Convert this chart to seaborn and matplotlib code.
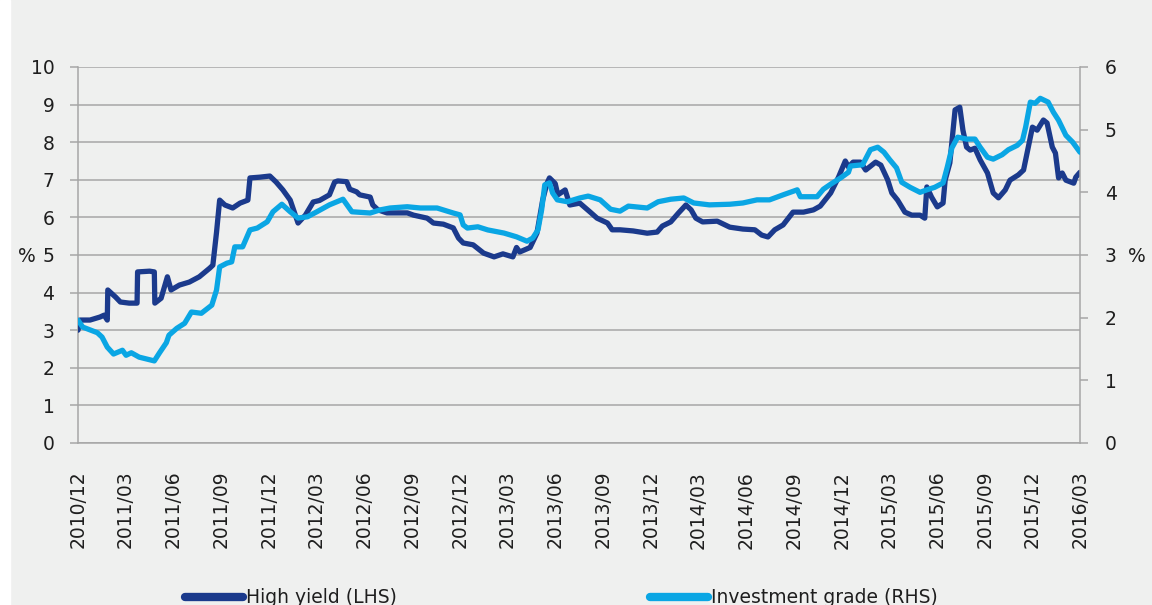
import numpy as np
import matplotlib
matplotlib.use('Agg')
import matplotlib.pyplot as plt
import matplotlib.dates as mdates
from matplotlib.lines import Line2D
from matplotlib.patches import Rectangle
import pandas as pd
import seaborn as sns

# high yield (left axis, %)
hy_dates = ['2010-12-01', '2010-12-05', '2010-12-24', '2011-01-12', '2011-01-20', '2011-01-26', '2011-01-27',
            '2011-02-11', '2011-02-20', '2011-03-09', '2011-03-24', '2011-03-25', '2011-04-17', '2011-04-26',
            '2011-04-27', '2011-05-09', '2011-05-21', '2011-05-28', '2011-06-13', '2011-07-02', '2011-07-21',
            '2011-08-10', '2011-08-16', '2011-08-23', '2011-08-29', '2011-09-08', '2011-09-23', '2011-10-07',
            '2011-10-22', '2011-10-26', '2011-11-14', '2011-12-03', '2011-12-15', '2011-12-28', '2012-01-11',
            '2012-01-26', '2012-02-09', '2012-02-24', '2012-03-07', '2012-03-26', '2012-04-05', '2012-04-11',
            '2012-04-28', '2012-05-04', '2012-05-17', '2012-05-23', '2012-06-12', '2012-06-17', '2012-06-27',
            '2012-07-14', '2012-08-22', '2012-09-03', '2012-09-29', '2012-10-11', '2012-10-30', '2012-11-18',
            '2012-11-28', '2012-12-07', '2012-12-26', '2013-01-15', '2013-02-04', '2013-02-21', '2013-03-12',
            '2013-03-19', '2013-03-25', '2013-04-14', '2013-04-27', '2013-05-08', '2013-05-16', '2013-05-21',
            '2013-06-01', '2013-06-06', '2013-06-20', '2013-06-29', '2013-07-18', '2013-08-07', '2013-08-20',
            '2013-09-09', '2013-09-18', '2013-10-03', '2013-10-28', '2013-11-24', '2013-12-13', '2013-12-23',
            '2014-01-08', '2014-01-23', '2014-02-06', '2014-02-16', '2014-02-25', '2014-03-10', '2014-04-07',
            '2014-05-01', '2014-05-26', '2014-06-18', '2014-07-01', '2014-07-13', '2014-07-26', '2014-08-11',
            '2014-08-30', '2014-09-19', '2014-10-08', '2014-10-21', '2014-11-10', '2014-11-25', '2014-12-08',
            '2014-12-14', '2014-12-23', '2015-01-06', '2015-01-16', '2015-02-04', '2015-02-14', '2015-02-27',
            '2015-03-07', '2015-03-18', '2015-04-01', '2015-04-14', '2015-04-30', '2015-05-09', '2015-05-13',
            '2015-05-22', '2015-06-02', '2015-06-13', '2015-06-17', '2015-06-26', '2015-07-06', '2015-07-15',
            '2015-07-21', '2015-07-28', '2015-08-04', '2015-08-13', '2015-08-23', '2015-09-06', '2015-09-17',
            '2015-09-27', '2015-10-10', '2015-10-19', '2015-11-04', '2015-11-14', '2015-11-23', '2015-12-01',
            '2015-12-10', '2015-12-22', '2015-12-29', '2016-01-08', '2016-01-14', '2016-01-20', '2016-01-27',
            '2016-02-03', '2016-02-18', '2016-02-22', '2016-03-01']
hy_values = [3.0, 3.27, 3.27, 3.35, 3.4, 3.27, 4.07,
             3.88, 3.75, 3.72, 3.72, 4.55, 4.57, 4.55,
             3.72, 3.85, 4.42, 4.07, 4.2, 4.28, 4.42,
             4.65, 4.73, 5.6, 6.46, 6.33, 6.25, 6.38,
             6.46, 7.05, 7.07, 7.1, 6.94, 6.73, 6.46,
             5.85, 6.06, 6.41, 6.45, 6.6, 6.94, 6.97,
             6.95, 6.75, 6.68, 6.6, 6.54, 6.33, 6.2,
             6.12, 6.12, 6.06, 5.98, 5.85, 5.82, 5.72,
             5.45, 5.32, 5.27, 5.05, 4.95, 5.03, 4.95,
             5.2, 5.08, 5.2, 5.58, 6.46, 6.9, 7.05,
             6.9, 6.6, 6.73, 6.33, 6.38, 6.14, 5.98,
             5.85, 5.67, 5.67, 5.64, 5.58, 5.61, 5.77,
             5.88, 6.12, 6.33, 6.2, 5.98, 5.88, 5.9,
             5.74, 5.69, 5.67, 5.53, 5.48, 5.67, 5.8,
             6.14, 6.14, 6.2, 6.3, 6.65, 7.07, 7.5,
             7.34, 7.47, 7.47, 7.26, 7.47, 7.39, 7.0,
             6.65, 6.46, 6.14, 6.06, 6.06, 5.98, 6.81,
             6.54, 6.28, 6.38, 6.99, 7.45, 8.86, 8.93,
             8.32, 7.87, 7.79, 7.84, 7.53, 7.18, 6.65,
             6.52, 6.73, 6.99, 7.13, 7.26, 7.87, 8.4,
             8.32, 8.59, 8.51, 7.87, 7.71, 7.05, 7.18,
             6.99, 6.91, 7.07, 7.2]

# investment grade (right axis, %)
ig_dates = ['2010-12-01', '2010-12-10', '2011-01-07', '2011-01-16', '2011-01-26', '2011-02-07', '2011-02-24',
            '2011-03-03', '2011-03-13', '2011-03-28', '2011-04-26', '2011-05-06', '2011-05-19', '2011-05-24',
            '2011-06-08', '2011-06-23', '2011-07-06', '2011-07-25', '2011-08-14', '2011-08-23', '2011-08-29',
            '2011-09-12', '2011-09-21', '2011-09-27', '2011-10-12', '2011-10-26', '2011-11-09', '2011-11-28',
            '2011-12-09', '2011-12-26', '2012-01-11', '2012-01-26', '2012-02-13', '2012-03-02', '2012-03-26',
            '2012-04-21', '2012-05-08', '2012-06-12', '2012-07-01', '2012-07-20', '2012-08-22', '2012-09-16',
            '2012-10-18', '2012-11-18', '2012-12-01', '2012-12-07', '2012-12-15', '2013-01-04', '2013-01-23',
            '2013-02-23', '2013-03-19', '2013-04-08', '2013-04-19', '2013-04-29', '2013-05-06', '2013-05-12',
            '2013-05-21', '2013-05-27', '2013-06-05', '2013-06-24', '2013-07-18', '2013-08-03', '2013-08-26',
            '2013-09-15', '2013-10-03', '2013-10-19', '2013-11-24', '2013-12-15', '2014-01-08', '2014-02-02',
            '2014-02-21', '2014-03-23', '2014-05-01', '2014-05-26', '2014-06-22', '2014-07-16', '2014-08-11',
            '2014-09-07', '2014-09-13', '2014-10-15', '2014-10-27', '2014-11-10', '2014-11-29', '2014-12-14',
            '2014-12-18', '2015-01-10', '2015-01-25', '2015-02-08', '2015-02-20', '2015-03-03', '2015-03-16',
            '2015-03-26', '2015-04-11', '2015-04-30', '2015-05-13', '2015-05-28', '2015-06-13', '2015-06-21',
            '2015-06-30', '2015-07-11', '2015-07-28', '2015-08-13', '2015-08-23', '2015-09-06', '2015-09-17',
            '2015-10-04', '2015-10-16', '2015-11-02', '2015-11-12', '2015-11-18', '2015-11-27', '2015-12-06',
            '2015-12-16', '2015-12-31', '2016-01-10', '2016-01-20', '2016-02-03', '2016-02-16', '2016-03-01']
ig_values = [1.96, 1.85, 1.76, 1.69, 1.53, 1.42, 1.48,
             1.40, 1.44, 1.37, 1.31, 1.44, 1.6, 1.72,
             1.83, 1.91, 2.09, 2.07, 2.2, 2.44, 2.81,
             2.87, 2.89, 3.13, 3.13, 3.4, 3.43, 3.53,
             3.69, 3.81, 3.69, 3.59, 3.61, 3.69, 3.8,
             3.89, 3.69, 3.67, 3.72, 3.75, 3.77, 3.75,
             3.75, 3.67, 3.64, 3.48, 3.43, 3.45, 3.4,
             3.35, 3.29, 3.22, 3.27, 3.4, 3.72, 4.12,
             4.15, 3.99, 3.88, 3.85, 3.91, 3.94, 3.88,
             3.73, 3.7, 3.78, 3.75, 3.85, 3.89, 3.91,
             3.83, 3.8, 3.81, 3.83, 3.88, 3.88, 3.96,
             4.04, 3.93, 3.93, 4.05, 4.13, 4.23, 4.32,
             4.42, 4.44, 4.68, 4.72, 4.64, 4.52, 4.39,
             4.16, 4.08, 4.0, 4.04, 4.08, 4.15, 4.4,
             4.71, 4.88, 4.85, 4.85, 4.72, 4.56, 4.53,
             4.6, 4.68, 4.75, 4.83, 5.04, 5.44, 5.42,
             5.5, 5.44, 5.28, 5.15, 4.91, 4.8, 4.64]

tick_dates = pd.date_range('2010-12-01', '2016-03-01', freq='3MS')
left_ticks = list(range(0, 11))
right_ticks = list(range(0, 7))

bg = '#eff0ef'
grid_col = '#a6a6a6'
dark = '#1b3a8c'
light = '#0aa6e4'
txt = '#1e1e1e'

sns.set_style('white', {'axes.facecolor': bg, 'figure.facecolor': bg})
plt.rcParams['font.family'] = ['DejaVu Sans']

hy = pd.DataFrame({'date': pd.to_datetime(hy_dates), 'value': hy_values})
ig = pd.DataFrame({'date': pd.to_datetime(ig_dates), 'value': ig_values})

fig = plt.figure(figsize=(11.52, 6.05), dpi=100)
fig.add_artist(Rectangle((0, 0), 10 / 1152, 1, transform=fig.transFigure, color='white', zorder=0))
ax = fig.add_axes([78 / 1152, 162 / 605, 1002 / 1152, 376 / 605])
ax2 = ax.twinx()

sns.lineplot(data=hy, x='date', y='value', ax=ax, color=dark, linewidth=3.8, zorder=3)
sns.lineplot(data=ig, x='date', y='value', ax=ax2, color=light, linewidth=3.8, zorder=4)

ax.set_zorder(1)
ax2.set_zorder(2)
ax2.patch.set_visible(False)

ax.set_xlim(pd.Timestamp('2010-12-01'), pd.Timestamp('2016-03-01'))
ax.set_ylim(0, 10)
ax2.set_ylim(0, 6)
ax.set_yticks(left_ticks)
ax2.set_yticks(right_ticks)
ax.set_xticks(tick_dates)
ax.xaxis.set_major_formatter(mdates.DateFormatter('%Y/%m'))
for lab in ax.get_xticklabels():
    lab.set_rotation(90)

ax.grid(axis='y', color=grid_col, linewidth=1.1)
ax.set_axisbelow(True)
for a in (ax, ax2):
    for s in a.spines.values():
        s.set_color(grid_col)
        s.set_linewidth(1.1)
    a.spines['top'].set_visible(False)
ax.spines['right'].set_visible(False)
ax2.spines['left'].set_visible(False)
ax2.spines['bottom'].set_visible(False)

ax.tick_params(axis='y', length=6, width=1.1, color=grid_col, labelsize=13.5, labelcolor=txt, pad=11)
ax.tick_params(axis='x', length=6, width=1.1, color=grid_col, labelsize=13.5, labelcolor=txt, pad=14)
ax2.tick_params(axis='y', length=6, width=1.1, color=grid_col, labelsize=13.5, labelcolor=txt, pad=12)

ax.set_xlabel('')
ax.set_ylabel('%', rotation=0, fontsize=13.5, color=txt, va='center', ha='center')
ax.yaxis.set_label_coords(-0.051, 0.495)
ax2.set_ylabel('%', rotation=0, fontsize=13.5, color=txt, va='center', ha='center')
ax2.yaxis.set_label_coords(1.057, 0.495)

handles = [Line2D([0], [0], color=dark, lw=6, solid_capstyle='round'),
           Line2D([0], [0], color=light, lw=6, solid_capstyle='round')]
fig.legend(handles, ['High yield (LHS)', 'Investment grade (RHS)'], loc='center',
           bbox_to_anchor=(0.487, 0.012), ncol=2, frameon=False, fontsize=13.5,
           handlelength=3.1, handletextpad=0.15, columnspacing=13.5, labelcolor=txt)

plt.savefig('out.png', dpi=100, facecolor=bg)
